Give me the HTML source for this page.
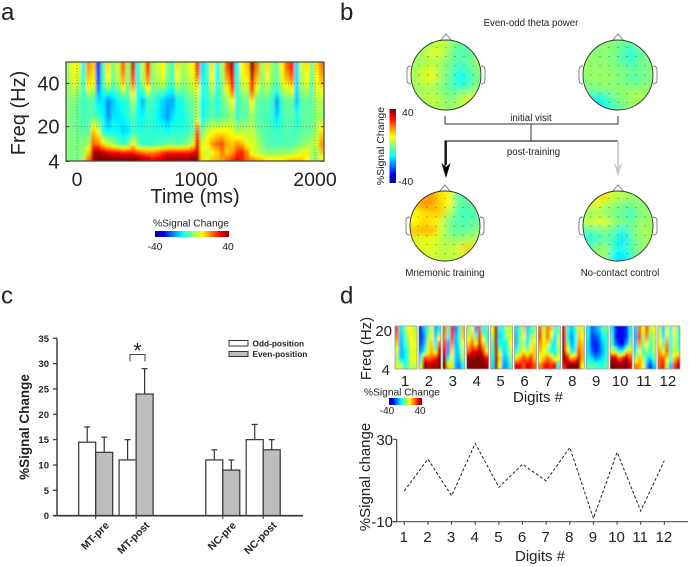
<!DOCTYPE html>
<html lang="en">
<head>
<meta charset="utf-8">
<title>Theta power figure</title>
<style>
html,body{margin:0;padding:0;background:#fff;}
svg{display:block;}
text{font-family:"Liberation Sans",Arial,sans-serif;fill:#222;}
</style>
</head>
<body>
<svg id="fig" xmlns="http://www.w3.org/2000/svg" width="691" height="567" viewBox="0 0 691 567">
<defs>
<linearGradient id="jetH" x1="0" x2="1" y1="0" y2="0">
<stop offset="0" stop-color="#00008f"/><stop offset=".12" stop-color="#0000ff"/><stop offset=".37" stop-color="#00ffff"/><stop offset=".5" stop-color="#80ff80"/><stop offset=".63" stop-color="#ffff00"/><stop offset=".88" stop-color="#ff0000"/><stop offset="1" stop-color="#800000"/>
</linearGradient>
<linearGradient id="jetV" x1="0" x2="0" y1="1" y2="0">
<stop offset="0" stop-color="#00008f"/><stop offset=".12" stop-color="#0000ff"/><stop offset=".37" stop-color="#00ffff"/><stop offset=".5" stop-color="#80ff80"/><stop offset=".63" stop-color="#ffff00"/><stop offset=".88" stop-color="#ff0000"/><stop offset="1" stop-color="#800000"/>
</linearGradient>
<filter id="blurA" filterUnits="userSpaceOnUse" x="0" y="0" width="691" height="567"><feGaussianBlur stdDeviation="1.3 0.5"/></filter>
<filter id="blurD" filterUnits="userSpaceOnUse" x="0" y="0" width="691" height="567"><feGaussianBlur stdDeviation="1.1 0.5"/></filter>
<filter id="blurT" filterUnits="userSpaceOnUse" x="0" y="0" width="691" height="567"><feGaussianBlur stdDeviation="3.4"/></filter>
<clipPath id="clipA"><rect x="66" y="62" width="258" height="99"/></clipPath>
</defs>

<text x="1" y="20" font-size="24">a</text>
<text x="340" y="20" font-size="24">b</text>
<text x="1" y="303.5" font-size="24">c</text>
<text x="340" y="303.5" font-size="24">d</text>

<g id="panelA"></g>
<text transform="translate(25 113) rotate(-90)" text-anchor="middle" font-size="20">Freq (Hz)</text>
<text x="195" y="203" text-anchor="middle" font-size="20">Time (ms)</text>
<text x="191" y="226.7" text-anchor="middle" font-size="10.2">%Signal Change</text>
<rect x="155" y="231" width="74" height="6" fill="url(#jetH)"/>
<text x="155" y="250" text-anchor="middle" font-size="10.2">-40</text>
<text x="228" y="250" text-anchor="middle" font-size="10.2">40</text>

<text x="531" y="26" text-anchor="middle" font-size="9.7">Even-odd theta power</text>
<g id="panelB"></g>
<rect x="389.5" y="109" width="6.5" height="74" fill="url(#jetV)"/>
<text x="402" y="116" font-size="10.5">40</text>
<text x="398" y="185" font-size="10.5">-40</text>
<text transform="translate(384 146) rotate(-90)" text-anchor="middle" font-size="10.5">%Signal Change</text>
<path d="M445 116V124H618V116M531 124V141" fill="none" stroke="#333" stroke-width="1"/>
<path d="M445 172V141H618" fill="none" stroke="#333" stroke-width="1.2"/>
<path d="M446 141V165" stroke="#111" stroke-width="1.8" fill="none"/>
<path d="M441.5 163L446 167L450.5 163L446 178Z" fill="#000"/>
<path d="M618 141V166" stroke="#ccc" stroke-width="1.8" fill="none"/>
<path d="M614 163L618 167L622 163L618 177Z" fill="#ccc"/>
<text x="531" y="121" text-anchor="middle" font-size="9.7" style="paint-order:stroke;stroke:#fff;stroke-width:2px">initial visit</text>
<text x="533.5" y="155" text-anchor="middle" font-size="9.7">post-training</text>
<text x="445" y="276" text-anchor="middle" font-size="9.7">Mnemonic training</text>
<text x="620" y="276" text-anchor="middle" font-size="9.7">No-contact control</text>

<g id="panelC"></g>
<text transform="translate(29 427) rotate(-90)" text-anchor="middle" font-size="13.5" font-weight="bold">%Signal Change</text>
<rect x="229" y="340.5" width="19" height="5.5" fill="#fff" stroke="#333" stroke-width="1"/>
<rect x="229" y="351.5" width="19" height="5" fill="#bdbdbd" stroke="#333" stroke-width="1"/>
<text x="252.5" y="346.3" font-size="8.3" font-weight="bold">Odd-position</text>
<text x="252.5" y="357" font-size="8.3" font-weight="bold">Even-position</text>
<text x="137.5" y="357.5" text-anchor="middle" font-size="21">*</text>
<path d="M130 361.5V354.5H145V361.5" fill="none" stroke="#444" stroke-width="1"/>

<g id="panelD"></g>
<text transform="translate(371 348.5) rotate(-90)" text-anchor="middle" font-size="15">Freq (Hz)</text>
<text x="392" y="336" text-anchor="end" font-size="15">20</text>
<text x="390" y="375" text-anchor="end" font-size="15">4</text>
<text x="538" y="402" text-anchor="middle" font-size="15">Digits #</text>
<text x="402" y="395.5" text-anchor="middle" font-size="10.2">%Signal Change</text>
<rect x="389" y="398" width="33" height="7" fill="url(#jetH)"/>
<text x="387" y="414" text-anchor="middle" font-size="10">-40</text>
<text x="420" y="414" text-anchor="middle" font-size="10">40</text>

<g id="panelE"></g>
<text transform="translate(370 477) rotate(-90)" text-anchor="middle" font-size="15">%Signal change</text>
<text x="540" y="561" text-anchor="middle" font-size="15">Digits #</text>

<script>
/* ---- Panel a: spectrogram ---- */
const spectroFreqs = [47, 40, 32, 25, 18, 12, 8, 5];
const spectroValues = [
[3,10,8,-8,18,14,-26,-3,12,0,6,22,2,34,-8,6,26,2,6,10,0,-4,12,2,6,10,26,-12,-4,12,-10,4,24,36,-10,10,14,38,20,2,12,2,-2,10,22,28,-12,6,12,0,12,20],
[2,7,5,-6,12,10,-22,-4,8,-2,3,14,0,20,-8,3,16,0,3,6,-2,-5,7,0,3,6,14,-10,-4,8,-9,2,14,30,-8,6,8,30,12,0,7,0,-3,6,12,16,-12,4,8,-2,8,14],
[0,1,-2,-6,-3,-4,-12,-12,-19,-14,-10,-7,-6,4,-8,-15,-5,-5,-9,-13,-16,-17,-9,-8,-3,-2,4,-10,-6,-3,-8,-3,2,10,-6,-2,-2,12,-2,-3,-3,-5,-17,-5,-2,-2,-14,-3,-2,-3,4,4],
[0,-1,-2,-5,-4,-4,-6,-10,-19,-12,-12,-10,-7,-3,-9,-10,-6,-7,-10,-14,-18,-12,-9,-9,-6,-3,4,-11,-6,-3,-6,-3,-2,2,-6,-3,-3,2,-3,-4,-4,-6,-13,-6,-3,-3,-8,-3,-2,-3,2,2],
[0,0,-2,-3,-3,14,8,-8,-10,-9,-10,-13,-12,-6,-7,-7,-6,-7,-7,-7,-9,-7,-7,-7,-6,-3,22,-2,6,8,10,10,10,8,2,4,4,6,0,-3,-3,-5,-6,-5,-3,-5,-5,-3,-2,-2,4,12],
[0,0,0,1,4,22,20,12,6,2,-2,-6,-2,10,-2,-6,-6,-6,-4,-4,-2,-2,-4,-2,0,8,30,6,12,18,22,24,16,14,18,16,8,8,4,0,-4,-4,-4,-4,-4,-4,-2,0,2,4,6,18],
[0,0,0,2,14,36,38,34,32,30,30,28,28,28,24,22,20,20,22,26,28,28,28,28,28,30,34,12,4,10,14,20,14,18,26,28,20,8,5,3,1,1,1,1,2,3,5,8,12,2,2,14],
[0,0,0,4,20,36,40,40,40,40,40,40,40,40,38,36,34,30,32,34,38,38,38,38,38,40,38,12,8,14,16,18,22,26,30,28,22,18,16,14,10,10,10,10,12,14,14,14,10,4,2,6]
];
const spectroTimeTicks = [0, 1000, 2000];
const spectroFreqTicks = [40, 20, 4];

/* ---- Panel b: scalp topographies ---- */
const topoInitialMnemonic = [
[2,2,4,6,2,-3,-2,0],[2,4,8,6,0,-4,-3,0],[2,3,4,2,-1,-4,-2,2],[3,6,8,2,-2,-7,-5,0],
[3,7,8,2,-3,-10,-7,-1],[2,3,3,0,-3,-5,-3,1],[2,4,5,3,-1,3,6,6],[2,3,4,3,1,4,7,6]];
const topoInitialControl = [
[1,1,1,0,-2,-3,0,1],[1,1,1,0,-4,-8,-3,0],[2,1,1,0,-3,-5,-2,0],[2,2,2,1,0,-2,-1,0],
[1,2,2,1,0,-3,-2,0],[0,0,1,1,1,1,1,1],[-4,-8,-6,-1,1,3,4,2],[-6,-14,-8,-4,-1,1,2,1]];
const topoPostMnemonic = [
[10,16,18,12,9,-2,-3,0],[14,19,18,13,10,-3,-3,-2],[9,12,14,14,3,-3,-5,-3],[10,13,11,7,0,-4,-4,-2],
[15,16,16,7,-1,-2,-2,0],[7,8,9,5,2,1,3,4],[7,8,7,5,5,7,14,7],[5,7,7,5,5,5,7,5]];
const topoPostControl = [
[6,12,13,6,4,3,2,2],[6,8,5,2,0,-1,2,2],[1,3,1,-1,-2,-5,-1,2],[5,8,8,2,0,-2,2,2],
[-3,-2,0,-2,-8,-2,3,3],[-8,-6,-3,-6,-12,-4,1,3],[-3,0,3,-6,-10,-3,1,3],[-1,2,2,-9,-12,-6,0,2]];

/* ---- Panel c: bar chart ---- */
const barCategories = ["MT-pre", "MT-post", "NC-pre", "NC-post"];
const oddValues = [14.5, 11, 11, 15];
const evenValues = [12.5, 24, 9, 13];
const oddErrors = [3, 4, 2, 3];
const evenErrors = [3, 5, 2, 2];
const barTicks = [0, 5, 10, 15, 20, 25, 30, 35];

/* ---- Panel d: per-digit spectrograms and line ---- */
const digitLabels = [1, 2, 3, 4, 5, 6, 7, 8, 9, 10, 11, 12];
const digitGrids = [
[[24,-12,-4,10,8,4],[20,-14,-8,4,10,6],[14,-16,-10,0,10,8],[8,-16,-12,-4,8,8],[4,-14,-12,-4,8,10],[6,8,-8,-2,6,4]],
[[-26,-14,-4,8,-16,-10],[-26,-18,0,10,-14,6],[-24,-16,4,14,-10,22],[-18,-10,8,16,4,32],[-8,26,22,24,28,38],[6,40,34,38,36,40]],
[[22,-4,30,-20,-6,16],[20,-10,26,-16,-4,14],[24,-18,18,-16,-8,10],[30,-18,12,-14,-12,6],[38,-12,8,-14,-14,4],[40,14,6,-16,-20,-8]],
[[-2,10,-18,24,-10,-4],[6,14,-6,28,4,-8],[14,22,10,34,14,-2],[22,30,30,36,26,8],[38,40,40,40,38,30],[40,40,40,40,40,36]],
[[10,38,-10,-6,6,4],[4,38,-12,-8,4,6],[-2,38,-8,-10,-6,10],[-6,38,4,-12,-8,6],[-10,40,14,-14,-14,2],[-12,40,8,-18,-16,-4]],
[[-12,-4,14,-14,-4,2],[-14,-2,10,-12,0,6],[-14,0,4,-12,6,12],[-8,2,10,2,10,14],[12,18,26,20,28,14],[30,32,24,34,30,24]],
[[22,4,20,14,-8,0],[24,8,22,6,-12,4],[18,12,12,-6,-12,6],[14,10,0,-10,-8,2],[8,14,24,16,2,10],[20,28,30,26,34,-10]],
[[30,-6,-14,-6,12,6],[32,-8,-18,-10,14,10],[32,0,-16,-10,18,14],[34,12,-12,-4,24,16],[36,30,16,20,36,16],[28,40,40,40,40,10]],
[[-10,-22,-18,-14,-4,-2],[-10,-26,-24,-20,-10,-8],[-12,-26,-28,-24,-14,-8],[-12,-22,-28,-24,-16,-8],[-10,-12,-20,-16,-12,-6],[-4,-2,-4,-4,-8,-2]],
[[-10,-28,-30,-30,-26,-8],[-6,-28,-32,-32,-26,-8],[-4,-22,-28,-30,-18,0],[6,4,-10,-8,8,12],[34,36,22,30,38,24],[40,40,38,40,40,34]],
[[-14,22,8,24,4,10],[-16,26,2,20,-2,6],[-14,18,0,10,-6,4],[-10,10,-6,2,-6,4],[2,14,4,-10,-14,0],[20,18,10,-16,-28,-14]],
[[4,-14,8,-8,12,-6],[6,-12,12,-10,8,-4],[12,-4,20,-8,6,-4],[16,6,24,-4,4,2],[22,24,12,-6,14,22],[24,32,4,-16,24,36]]
];
const lineValues = [4.9, 20.4, 2.6, 28, 6.7, 17.9, 9.8, 26, -8.4, 23.7, -4.8, 19.6];
const lineTicks = [30, -10];

const NS = "http://www.w3.org/2000/svg";
function mk(parent, tag, attrs, txt) {
  const el = document.createElementNS(NS, tag);
  for (const k in attrs) el.setAttribute(k, attrs[k]);
  if (txt !== undefined) el.textContent = txt;
  parent.appendChild(el);
  return el;
}
function jet(v) {
  const t = Math.max(0, Math.min(1, (v + 40) / 80));
  const r = Math.max(0, Math.min(1, Math.min(4 * t - 1.5, -4 * t + 4.5)));
  const g = Math.max(0, Math.min(1, Math.min(4 * t - 0.5, -4 * t + 3.5)));
  const b = Math.max(0, Math.min(1, Math.min(4 * t + 0.5, -4 * t + 2.5)));
  return "rgb(" + Math.round(r * 255) + "," + Math.round(g * 255) + "," + Math.round(b * 255) + ")";
}
/* One rect per column; a vertical gradient carries that column's row values through the colormap. */
let gradCount = 0;
function heatColumns(g, grid, L, R, T, B, rowY, cellName) {
  const nCols = grid[0].length, cw = (R - L) / nCols, pad = 12;
  for (let c = 0; c < nCols; c++) {
    const id = "hg" + (gradCount++);
    const grad = mk(g, "linearGradient", { id: id, gradientUnits: "userSpaceOnUse", x1: 0, x2: 0, y1: T, y2: B });
    for (let r = 0; r < grid.length; r++) {
      const y0 = rowY(r), v0 = grid[r][c];
      mk(grad, "stop", { offset: (y0 - T) / (B - T), "stop-color": jet(v0) });
      if (r < grid.length - 1) {
        const y1 = rowY(r + 1), v1 = grid[r + 1][c];
        for (let s = 1; s < 4; s++) {
          mk(grad, "stop", { offset: (y0 + (y1 - y0) * s / 4 - T) / (B - T), "stop-color": jet(v0 + (v1 - v0) * s / 4) });
        }
      }
    }
    const x0 = c === 0 ? L - pad : L + c * cw;
    const x1 = c === nCols - 1 ? R + pad : L + (c + 1) * cw + 0.3;
    const cell = mk(g, "rect", { x: x0, y: T - pad, width: x1 - x0, height: B - T + 2 * pad, fill: "url(#" + id + ")" });
    
    
  }
}

/* Panel a */
(function () {
  const p = document.getElementById("panelA");
  const L = 66, R = 324, T = 62, B = 161;
  const timeX = ms => 77 + ms * 0.119;
  const freqY = f => 161.4 - (f - 4) * 2.17;
  const clip = mk(p, "g", { "clip-path": "url(#clipA)" });
  const g = mk(clip, "g", { filter: "url(#blurA)" });
  heatColumns(g, spectroValues, L, R, T, B, r => freqY(spectroFreqs[r]), 'spectrogram-cell');
  spectroFreqTicks.forEach(f => {
    const y = freqY(f);
    if (f > 4) {
      const grid = mk(p, "line", { x1: L, x2: R, y1: y, y2: y, stroke: "#444", "stroke-width": 0.7, "stroke-dasharray": "1 2", opacity: .7 });
      
      
    }
    const lab = mk(p, "text", { x: 59.5, y: y + 7, "text-anchor": "end", "font-size": 20 }, String(f));
    
    
    mk(p, "line", { x1: L, x2: L + 3, y1: y, y2: y, stroke: "#333" });
    mk(p, "line", { x1: R - 3, x2: R, y1: y, y2: y, stroke: "#333" });
  });
  spectroTimeTicks.forEach(ms => {
    const x = timeX(ms);
    const grid = mk(p, "line", { x1: x, x2: x, y1: T, y2: B, stroke: "#444", "stroke-width": 0.7, "stroke-dasharray": "1 2", opacity: .7 });
    
    
    const lab = mk(p, "text", { x: x, y: 186, "text-anchor": "middle", "font-size": 19.5 }, String(ms));
    
    
  });
  const frame = mk(p, "rect", { x: L, y: T, width: R - L, height: B - T, fill: "none", stroke: "#444", "stroke-width": 1.2 });
  
  
})();

/* Panel b */
(function () {
  const p = document.getElementById("panelB");
  const R = 35;
  function head(cx, cy, grid, id) {
    const h = mk(p, "g", {});
    
    
    mk(h, "path", { d: `M${cx - 6} ${cy - R + 1}L${cx} ${cy - R - 6}L${cx + 6} ${cy - R + 1}`, fill: "#fff", stroke: "#777", "stroke-width": .9 });
    mk(h, "path", { d: `M${cx - R} ${cy - 9}Q${cx - R - 4} ${cy - 9} ${cx - R - 4} ${cy - 5}V${cy + 5}Q${cx - R - 4} ${cy + 9} ${cx - R} ${cy + 9}`, fill: "#fff", stroke: "#777", "stroke-width": .9 });
    mk(h, "path", { d: `M${cx + R} ${cy - 9}Q${cx + R + 4} ${cy - 9} ${cx + R + 4} ${cy - 5}V${cy + 5}Q${cx + R + 4} ${cy + 9} ${cx + R} ${cy + 9}`, fill: "#fff", stroke: "#777", "stroke-width": .9 });
    const defs = mk(h, "clipPath", { id: id });
    mk(defs, "circle", { cx: cx, cy: cy, r: R });
    const clip = mk(h, "g", { "clip-path": `url(#${id})` });
    const g = mk(clip, "g", { filter: "url(#blurT)" });
    const n = grid.length, s = 2 * R / n;
    grid.forEach((row, r) => row.forEach((v, c) => {
      const x0 = c === 0 ? cx - R - 14 : cx - R + c * s;
      const x1 = c === n - 1 ? cx + R + 14 : cx - R + (c + 1) * s + .3;
      const y0 = r === 0 ? cy - R - 14 : cy - R + r * s;
      const y1 = r === n - 1 ? cy + R + 14 : cy - R + (r + 1) * s + .3;
      const cell = mk(g, "rect", { x: x0, y: y0, width: x1 - x0, height: y1 - y0, fill: jet(v) });
      
      
    }));
    for (let iy = -3; iy <= 3; iy++) for (let ix = -3; ix <= 3; ix++) {
      const dx = ix * 9, dy = iy * 9.2;
      if (dx * dx + dy * dy > 31 * 31) continue;
      const dot = mk(h, "circle", { cx: cx + dx, cy: cy + dy, r: .45, fill: "#333" });
      
      
    }
    mk(h, "circle", { cx: cx, cy: cy, r: R, fill: "none", stroke: "#333", "stroke-width": .9 });
  }
  head(446, 75, topoInitialMnemonic, "t1");
  head(618, 75, topoInitialControl, "t2");
  head(445, 226, topoPostMnemonic, "t3");
  head(618, 226, topoPostControl, "t4");
})();

/* Panel c */
(function () {
  const p = document.getElementById("panelC");
  const y = v => 515.7 - v * 5.07;
  const groupX = i => 95.7 + i * 40.4 + (i >= 2 ? 46.3 : 0);
  const barW = 17;
  const barColor = "#333";
  function bar(x, v, e, fill, name) {
    const el = mk(p, "line", { x1: x + barW / 2, x2: x + barW / 2, y1: y(v), y2: y(v + e), stroke: "#333", "stroke-width": 1.2 });
    
    
    const cap = mk(p, "line", { x1: x + barW / 2 - 3, x2: x + barW / 2 + 3, y1: y(v + e), y2: y(v + e), stroke: "#333", "stroke-width": 1.2 });
    
    
    const rect = mk(p, "rect", { x: x, y: y(v), width: barW, height: y(0) - y(v), fill: fill, stroke: barColor, "stroke-width": 1.2 });
    
    
  }
  barCategories.forEach((cat, i) => {
    const cx = groupX(i);
    bar(cx - barW, oddValues[i], oddErrors[i], "#fff", "odd-position");
    bar(cx, evenValues[i], evenErrors[i], "#bdbdbd", "even-position");
    const tick = mk(p, "line", { x1: cx, x2: cx, y1: 515.7, y2: 519, stroke: "#333" });
    
    
    const lab = mk(p, "text", { transform: `translate(${cx + 14} 526) rotate(-45)`, "text-anchor": "end", "font-size": 10.5, "font-weight": "bold" }, cat);
    
    
  });
  barTicks.forEach(t => {
    const tick = mk(p, "line", { x1: 53, x2: 57, y1: y(t), y2: y(t), stroke: "#333", "stroke-width": 1.2 });
    
    
    const lab = mk(p, "text", { x: 49, y: y(t) + 3.5, "text-anchor": "end", "font-size": 9.5, "font-weight": "bold" }, String(t));
    
    
  });
  const ax = mk(p, "line", { x1: 57, x2: 57, y1: y(35), y2: y(0), stroke: "#333", "stroke-width": 1.4 });
  
  
  const bx = mk(p, "line", { x1: 53, x2: 303, y1: y(0), y2: y(0), stroke: "#333", "stroke-width": 1.6 });
  
  
})();

/* Panel d heatmaps */
(function () {
  const p = document.getElementById("panelD");
  const tileX = i => 395 + i * 23.9;
  const W = 22, T = 326, H = 43;
  digitGrids.forEach((grid, d) => {
    const x = tileX(d);
    const tile = mk(p, "g", {});
    
    
    const cp = mk(tile, "clipPath", { id: "dc" + d });
    mk(cp, "rect", { x: x, y: T, width: W, height: H });
    const clip = mk(tile, "g", { "clip-path": `url(#dc${d})` });
    const g = mk(clip, "g", { filter: "url(#blurD)" });
    const rh = H / grid.length;
    heatColumns(g, grid, x, x + W, T, T + H, r => T + (r + .5) * rh, 'digit-spectrogram-cell');
    mk(tile, "rect", { x: x, y: T, width: W, height: H, fill: "none", stroke: "#999", "stroke-width": .8 });
    const lab = mk(tile, "text", { x: x + W / 2 - 1, y: 386, "text-anchor": "middle", "font-size": 15 }, String(digitLabels[d]));
    
    
  });
})();

/* Panel d line */
(function () {
  const p = document.getElementById("panelE");
  const x = i => 404.3 + i * 23.64;
  const y = v => 521.7 - (v + 10) * 2.06;
  const pts = lineValues.map((v, i) => x(i).toFixed(1) + "," + y(v).toFixed(1)).join(" ");
  const line = mk(p, "polyline", { points: pts, fill: "none", stroke: "#222", "stroke-width": 1, "stroke-dasharray": "3 2" });
  
  
  const ya = mk(p, "line", { x1: 396.7, x2: 396.7, y1: y(30), y2: y(-10), stroke: "#333", "stroke-width": 1.1 });
  
  
  const xa = mk(p, "line", { x1: 393, x2: 688, y1: y(-10), y2: y(-10), stroke: "#555", "stroke-width": 1.1 });
  
  
  lineTicks.forEach(t => {
    const tick = mk(p, "line", { x1: 393, x2: 396.7, y1: y(t), y2: y(t), stroke: "#333" });
    
    
    const lab = mk(p, "text", { x: 393, y: y(t) + 5.5, "text-anchor": "end", "font-size": 15 }, String(t));
    
    
  });
  digitLabels.forEach((d, i) => {
    const tick = mk(p, "line", { x1: x(i), x2: x(i), y1: y(-10), y2: y(-10) + 3, stroke: "#333" });
    
    
    const lab = mk(p, "text", { x: x(i) - .5, y: 542, "text-anchor": "middle", "font-size": 15 }, String(d));
    
    
  });
})();
</script>
</svg>
</body>
</html>
